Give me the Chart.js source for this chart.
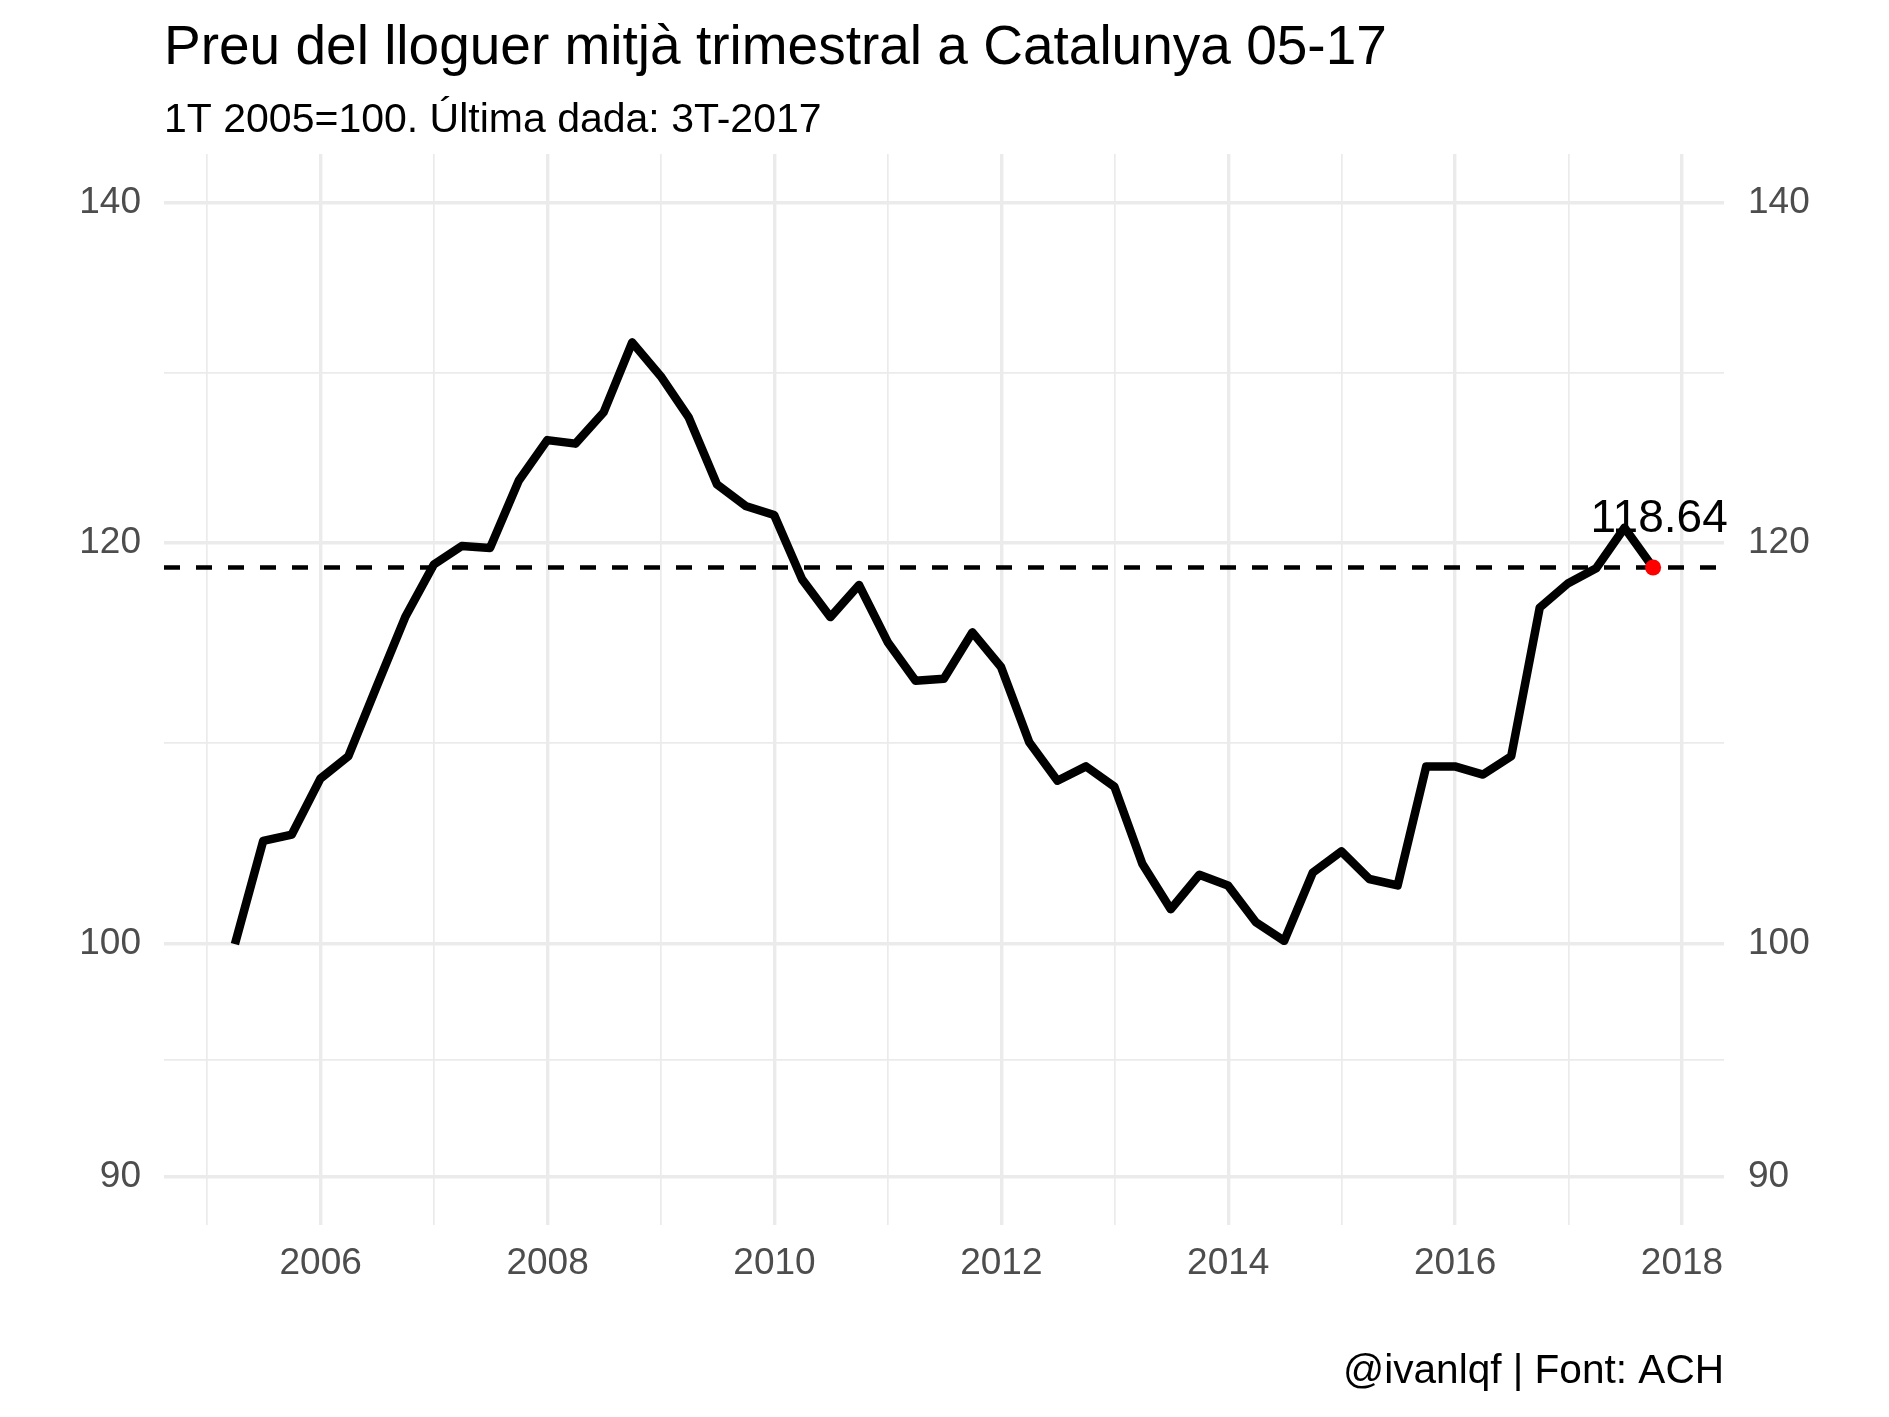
<!DOCTYPE html>
<html>
<head>
<meta charset="utf-8">
<script src="https://cdn.jsdelivr.net/npm/chart.js@4.4.1/dist/chart.umd.min.js"></script>
<style>
html,body{margin:0;padding:0;background:#ffffff;}
canvas{display:block;}
</style>
</head>
<body>
<canvas id="c" width="1889" height="1417"></canvas>
<script>
// ---- data ----
const quarters = [
  '2005-03-31','2005-06-30','2005-09-30','2005-12-31',
  '2006-03-31','2006-06-30','2006-09-30','2006-12-31',
  '2007-03-31','2007-06-30','2007-09-30','2007-12-31',
  '2008-03-31','2008-06-30','2008-09-30','2008-12-31',
  '2009-03-31','2009-06-30','2009-09-30','2009-12-31',
  '2010-03-31','2010-06-30','2010-09-30','2010-12-31',
  '2011-03-31','2011-06-30','2011-09-30','2011-12-31',
  '2012-03-31','2012-06-30','2012-09-30','2012-12-31',
  '2013-03-31','2013-06-30','2013-09-30','2013-12-31',
  '2014-03-31','2014-06-30','2014-09-30','2014-12-31',
  '2015-03-31','2015-06-30','2015-09-30','2015-12-31',
  '2016-03-31','2016-06-30','2016-09-30','2016-12-31',
  '2017-03-31','2017-06-30','2017-09-30'
];
const values = [
  100.0, 104.8, 105.1, 107.8,
  108.9, 112.4, 116.0, 118.8,
  119.8, 119.7, 123.4, 125.7,
  125.5, 127.3, 131.4, 129.4,
  127.0, 123.2, 122.0, 121.5,
  118.0, 116.0, 117.7, 114.7,
  112.7, 112.8, 115.2, 113.4,
  109.6, 107.7, 108.4, 107.4,
  103.7, 101.6, 103.2, 102.7,
  101.0, 100.15, 103.3, 104.3,
  103.0, 102.7, 108.4, 108.4,
  108.0, 108.9, 116.5, 117.8,
  118.6, 120.8, 118.64
];
const yTickValues = [90, 100, 120, 140];
const xTickYears = [2006, 2008, 2010, 2012, 2014, 2016, 2018];
const lastValueLabel = '118.64';
const titleText = 'Preu del lloguer mitjà trimestral a Catalunya 05-17';
const subtitleText = '1T 2005=100. Última dada: 3T-2017';
const captionText = '@ivanlqf | Font: ACH';

// ---- helpers ----
function decYear(s) {
  const [y, m, d] = s.split('-').map(Number);
  const t = Date.UTC(y, m - 1, d), a = Date.UTC(y, 0, 1), b = Date.UTC(y + 1, 0, 1);
  return y + (t - a) / (b - a);
}
const xs = quarters.map(decYear);
const points = xs.map((x, i) => ({ x: x, y: values[i] }));
const lastIdx = values.length - 1;
const refValue = values[lastIdx];

const xMinD = Math.min(...xs), xMaxD = Math.max(...xs);
const xSpan = xMaxD - xMinD;
const xMin = xMinD - 0.05 * xSpan, xMax = xMaxD + 0.05 * xSpan;

const lyMin = Math.log10(Math.min(...yTickValues)), lyMax = Math.log10(Math.max(...yTickValues));
const lySpan = lyMax - lyMin;
const yMin = Math.pow(10, lyMin - 0.05 * lySpan), yMax = Math.pow(10, lyMax + 0.05 * lySpan);

const yAllTicks = [];
yTickValues.forEach((v, i) => {
  yAllTicks.push(v);
  if (i < yTickValues.length - 1) yAllTicks.push(Math.sqrt(v * yTickValues[i + 1]));
});
const xAllTicks = [];
for (let yr = Math.floor(xMin) + 1; yr <= Math.floor(xMax); yr++) xAllTicks.push(yr);

const FONT = "'Liberation Sans', Arial, Helvetica, sans-serif";
const GRID = '#EBEBEB';
const isMajorY = v => yTickValues.some(t => Math.abs(t - v) < 1e-6);
const isMajorX = v => xTickYears.includes(v);

const yAxisCommon = {
  type: 'logarithmic',
  min: yMin,
  max: yMax,
  afterBuildTicks: s => { s.ticks = yAllTicks.map(v => ({ value: v })); },
  ticks: {
    autoSkip: false,
    color: '#4D4D4D',
    font: { family: FONT, size: 37 },
    callback: v => isMajorY(v) ? String(Math.round(v)) : ''
  },
  border: { display: false }
};

const annot = {
  id: 'annot',
  beforeDatasetsDraw(chart) {
    const { ctx, chartArea: a, scales } = chart;
    const y = scales.y.getPixelForValue(refValue);
    ctx.save();
    ctx.beginPath();
    ctx.rect(a.left, a.top, a.right - a.left, a.bottom - a.top);
    ctx.clip();
    ctx.setLineDash([16, 16]);
    ctx.lineWidth = 4.5;
    ctx.strokeStyle = '#000000';
    ctx.beginPath();
    ctx.moveTo(a.left, y);
    ctx.lineTo(a.right, y);
    ctx.stroke();
    ctx.restore();
  },
  afterDraw(chart) {
    const { ctx, chartArea: a, scales } = chart;
    ctx.save();
    ctx.fillStyle = '#000000';
    ctx.textBaseline = 'alphabetic';
    ctx.textAlign = 'left';
    ctx.font = '55px ' + FONT;
    ctx.fillText(titleText, a.left, 64);
    ctx.font = '41px ' + FONT;
    ctx.fillText(subtitleText, a.left, 132);
    ctx.textAlign = 'right';
    ctx.font = '40.6px ' + FONT;
    ctx.fillText(captionText, a.right, 1383);
    // label of last value
    const px = scales.x.getPixelForValue(xs[lastIdx]);
    const py = scales.y.getPixelForValue(values[lastIdx]);
    ctx.textAlign = 'center';
    ctx.font = '46px ' + FONT;
    ctx.fillText(lastValueLabel, px + 6, py - 35);
    ctx.restore();
  }
};

new Chart(document.getElementById('c'), {
  type: 'line',
  data: {
    datasets: [{
      data: points,
      borderColor: '#000000',
      borderWidth: 8.5,
      borderJoinStyle: 'round',
      borderCapStyle: 'butt',
      tension: 0,
      fill: false,
      pointRadius: ctx => ctx.dataIndex === lastIdx ? 8 : 0,
      pointBackgroundColor: '#FF0000',
      pointBorderColor: '#FF0000',
      pointBorderWidth: 0,
      pointHoverRadius: 0
    }]
  },
  options: {
    responsive: false,
    devicePixelRatio: 1,
    animation: false,
    events: [],
    layout: { padding: { top: 154, left: 0, right: 0, bottom: 0 } },
    plugins: {
      legend: { display: false },
      title: { display: false },
      tooltip: { enabled: false }
    },
    scales: {
      x: {
        type: 'linear',
        min: xMin,
        max: xMax,
        afterBuildTicks: s => { s.ticks = xAllTicks.map(v => ({ value: v })); },
        afterFit: s => { s.height = 192; },
        ticks: {
          autoSkip: false,
          maxRotation: 0,
          minRotation: 0,
          padding: 17,
          color: '#4D4D4D',
          font: { family: FONT, size: 37 },
          callback: v => isMajorX(v) ? String(v) : ''
        },
        grid: {
          color: GRID,
          drawTicks: false,
          lineWidth: ctx => (ctx.tick && isMajorX(ctx.tick.value)) ? 3.4 : 1.7
        },
        border: { display: false }
      },
      y: Object.assign({}, yAxisCommon, {
        position: 'left',
        afterFit: s => { s.width = 164; },
        ticks: Object.assign({}, yAxisCommon.ticks, { padding: 23 }),
        grid: {
          color: GRID,
          drawTicks: false,
          lineWidth: ctx => (ctx.tick && isMajorY(ctx.tick.value)) ? 3.4 : 1.7
        }
      }),
      y2: Object.assign({}, yAxisCommon, {
        position: 'right',
        afterFit: s => { s.width = 165; },
        ticks: Object.assign({}, yAxisCommon.ticks, { padding: 24 }),
        grid: { display: false, drawTicks: false }
      })
    }
  },
  plugins: [annot]
});
</script>
</body>
</html>
